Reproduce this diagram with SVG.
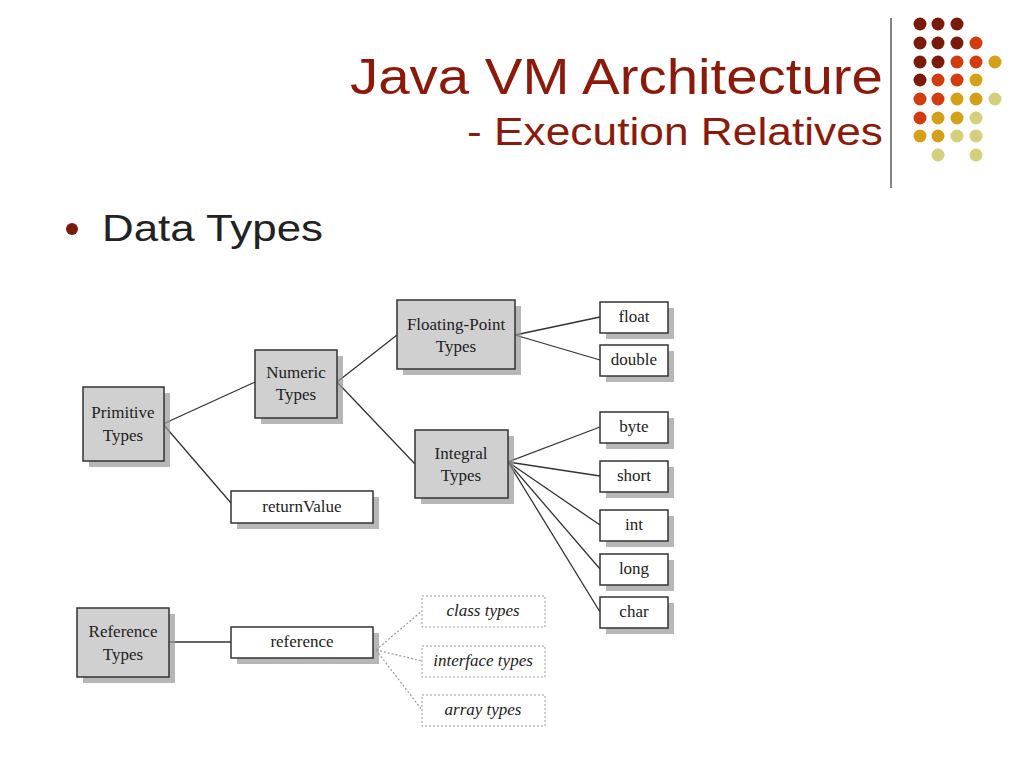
<svg xmlns="http://www.w3.org/2000/svg" width="1024" height="768" viewBox="0 0 1024 768">
<defs>
<style>
.t{font-family:"Liberation Serif",serif;font-size:17px;fill:#222;text-anchor:middle}
.i{font-style:italic}
.g{fill:#d0d0d0;stroke:#333;stroke-width:1.5}
.w{fill:#fff;stroke:#333;stroke-width:1.5}
.s{fill:#999;opacity:.7}
.d{fill:#fff;stroke:#999;stroke-width:1;stroke-dasharray:2,2}
.c{stroke:#333;stroke-width:1.3;fill:none}
.cd{stroke:#999;stroke-width:1.2;fill:none;stroke-dasharray:2,2}
.a{fill:#7a1a0a}.b{fill:#d23c0f}.y{fill:#d4a017}.k{fill:#d4cf7a}
</style>
</defs>
<rect width="1024" height="768" fill="#fff"/>
<g id="dots">
<circle class="a" cx="920" cy="24" r="6.5"/><circle class="a" cx="938" cy="24" r="6.5"/><circle class="a" cx="957" cy="24" r="6.5"/>
<circle class="a" cx="920" cy="43" r="6.5"/><circle class="a" cx="938" cy="43" r="6.5"/><circle class="a" cx="957" cy="43" r="6.5"/><circle class="b" cx="976" cy="43" r="6.5"/>
<circle class="a" cx="920" cy="62" r="6.5"/><circle class="a" cx="938" cy="62" r="6.5"/><circle class="b" cx="957" cy="62" r="6.5"/><circle class="b" cx="976" cy="62" r="6.5"/><circle class="y" cx="995" cy="62" r="6.5"/>
<circle class="a" cx="920" cy="80" r="6.5"/><circle class="b" cx="938" cy="80" r="6.5"/><circle class="b" cx="957" cy="80" r="6.5"/><circle class="y" cx="976" cy="80" r="6.5"/>
<circle class="b" cx="920" cy="99" r="6.5"/><circle class="b" cx="938" cy="99" r="6.5"/><circle class="y" cx="957" cy="99" r="6.5"/><circle class="y" cx="976" cy="99" r="6.5"/><circle class="k" cx="995" cy="99" r="6.5"/>
<circle class="b" cx="920" cy="118" r="6.5"/><circle class="y" cx="938" cy="118" r="6.5"/><circle class="y" cx="957" cy="118" r="6.5"/><circle class="k" cx="976" cy="118" r="6.5"/>
<circle class="y" cx="920" cy="136" r="6.5"/><circle class="y" cx="938" cy="136" r="6.5"/><circle class="k" cx="957" cy="136" r="6.5"/><circle class="k" cx="976" cy="136" r="6.5"/>
<circle class="k" cx="938" cy="155" r="6.5"/><circle class="k" cx="976" cy="155" r="6.5"/>
</g>
<line x1="891" y1="18" x2="891" y2="188" stroke="#333" stroke-width="1.2"/>
<text x="350" y="94" font-family="Liberation Sans,sans-serif" font-size="50" fill="#8b1a0a" textLength="533" lengthAdjust="spacingAndGlyphs">Java VM Architecture</text>
<text x="467" y="145" font-family="Liberation Sans,sans-serif" font-size="38" fill="#8b1a0a" textLength="416" lengthAdjust="spacingAndGlyphs">- Execution Relatives</text>
<circle cx="72" cy="229" r="6" fill="#7a1a0a"/>
<text x="102" y="241" font-family="Liberation Sans,sans-serif" font-size="36" fill="#222" textLength="221" lengthAdjust="spacingAndGlyphs">Data Types</text>
<g id="connectors">
<path class="c" d="M163 424L255 382M163 424L231 503M337 382L397 335M337 382L415 464M515 335L600 317M515 335L600 360M508 462L600 427M508 462L600 476M508 462L600 525M508 462L600 569M508 462L600 612M169 642L231 642"/>
<path class="cd" d="M376 650L422 611M376 650L422 661M376 650L422 710"/>
</g>
<g id="primitive"><rect class="s" x="89" y="393" width="81" height="74"/><rect class="g" x="83" y="387" width="81" height="74"/><text class="t" x="123" y="418">Primitive</text><text class="t" x="123" y="441">Types</text></g>
<g id="numeric"><rect class="s" x="261" y="356" width="82" height="68"/><rect class="g" x="255" y="350" width="82" height="68"/><text class="t" x="296" y="378">Numeric</text><text class="t" x="296" y="400">Types</text></g>
<g id="floating"><rect class="s" x="403" y="306" width="118" height="69"/><rect class="g" x="397" y="300" width="118" height="69"/><text class="t" x="456" y="330">Floating-Point</text><text class="t" x="456" y="352">Types</text></g>
<g id="integral"><rect class="s" x="421" y="436" width="93" height="68"/><rect class="g" x="415" y="430" width="93" height="68"/><text class="t" x="461" y="459">Integral</text><text class="t" x="461" y="481">Types</text></g>
<g id="returnValue"><rect class="s" x="237" y="497" width="142" height="32"/><rect class="w" x="231" y="491" width="142" height="32"/><text class="t" x="302" y="512">returnValue</text></g>
<g id="float"><rect class="s" x="606" y="308" width="68" height="31"/><rect class="w" x="600" y="302" width="68" height="31"/><text class="t" x="634" y="322">float</text></g>
<g id="double"><rect class="s" x="606" y="351" width="68" height="31"/><rect class="w" x="600" y="345" width="68" height="31"/><text class="t" x="634" y="365">double</text></g>
<g id="byte"><rect class="s" x="606" y="418" width="68" height="31"/><rect class="w" x="600" y="412" width="68" height="31"/><text class="t" x="634" y="432">byte</text></g>
<g id="short"><rect class="s" x="606" y="467" width="68" height="31"/><rect class="w" x="600" y="461" width="68" height="31"/><text class="t" x="634" y="481">short</text></g>
<g id="int"><rect class="s" x="606" y="516" width="68" height="31"/><rect class="w" x="600" y="510" width="68" height="31"/><text class="t" x="634" y="530">int</text></g>
<g id="long"><rect class="s" x="606" y="560" width="68" height="31"/><rect class="w" x="600" y="554" width="68" height="31"/><text class="t" x="634" y="574">long</text></g>
<g id="char"><rect class="s" x="606" y="603" width="68" height="31"/><rect class="w" x="600" y="597" width="68" height="31"/><text class="t" x="634" y="617">char</text></g>
<g id="referenceTypes"><rect class="s" x="83" y="614" width="92" height="69"/><rect class="g" x="77" y="608" width="92" height="69"/><text class="t" x="123" y="637">Reference</text><text class="t" x="123" y="660">Types</text></g>
<g id="reference"><rect class="s" x="237" y="633" width="142" height="31"/><rect class="w" x="231" y="627" width="142" height="31"/><text class="t" x="302" y="647">reference</text></g>
<g id="classTypes"><rect class="d" x="422" y="596" width="123" height="31"/><text class="t i" x="483" y="616">class types</text></g>
<g id="interfaceTypes"><rect class="d" x="422" y="646" width="123" height="31"/><text class="t i" x="483" y="666">interface types</text></g>
<g id="arrayTypes"><rect class="d" x="422" y="695" width="123" height="31"/><text class="t i" x="483" y="715">array types</text></g>
</svg>
